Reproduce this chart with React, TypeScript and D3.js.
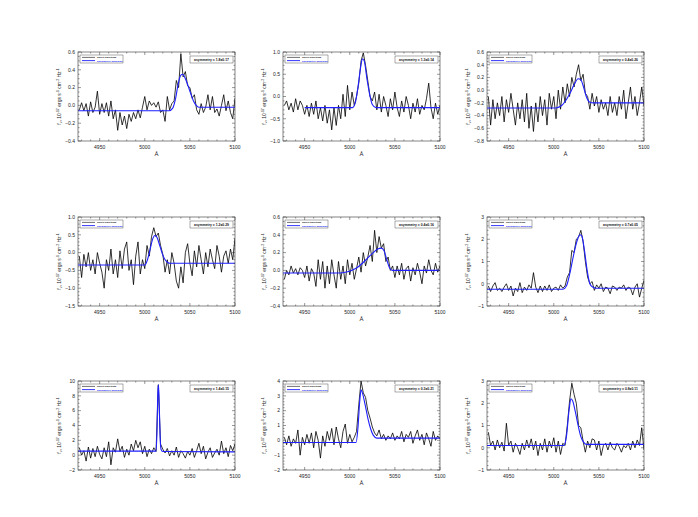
import React from 'react';
import * as d3 from 'd3';

const WIDTH = 698;
const HEIGHT = 517;

// sampling grid shared by every spectrum (Å)
const WAVE = d3.range(70).map(i => 4927.5 + i * 2.5);
const X_DOMAIN = [4926, 5100];
const X_TICKS = [4950, 5000, 5050, 5100];

const FLUX_1 = [-0.05, 0.03, -0.06, 0.02, -0.12, 0.04, -0.08, -0.02, 0.16, -0.1, 0.02, -0.08, 0.03, -0.12, 0.05, -0.15, -0.05, -0.28, -0.08, -0.22, -0.12, -0.26, -0.1, -0.18, -0.08, -0.15, -0.05, -0.14, -0.02, 0.1, -0.05, 0.05, 0.0, 0.03, -0.02, 0.04, -0.08, -0.05, -0.18, 0.1, -0.05, 0.02, 0.05, 0.28, 0.2, 0.58, 0.32, 0.38, 0.22, 0.2, 0.08, 0.12, -0.05, -0.1, 0.02, -0.08, -0.02, 0.12, -0.05, 0.1, -0.08, -0.04, -0.12, 0.0, 0.12, -0.06, 0.05, -0.08, -0.15, 0.08];
const FLUX_2 = [-0.2, -0.1, -0.3, -0.15, -0.35, -0.05, -0.3, -0.1, -0.2, -0.4, -0.2, -0.45, -0.15, -0.4, -0.1, -0.5, -0.25, -0.55, -0.2, -0.6, -0.3, -0.75, -0.25, -0.65, -0.2, -0.5, 0.05, -0.45, 0.25, -0.3, 0.1, -0.2, 0.0, 0.3, 0.8, 0.98, 0.7, 0.35, 0.0, -0.1, 0.1, -0.3, 0.05, -0.35, 0.0, -0.2, -0.45, -0.05, -0.3, 0.1, -0.25, -0.45, -0.1, -0.35, 0.0, -0.2, -0.5, -0.15, -0.35, -0.05, -0.4, -0.2, -0.3, -0.05, 0.3, -0.25, -0.5, -0.15, -0.4, -0.2];
const FLUX_3 = [-0.1, -0.55, -0.15, -0.45, -0.2, -0.4, -0.1, -0.5, -0.15, -0.35, -0.05, -0.3, -0.55, -0.2, -0.45, -0.15, -0.5, -0.05, -0.6, -0.25, -0.65, -0.2, -0.5, -0.1, -0.4, -0.15, -0.55, -0.05, -0.3, -0.1, -0.45, 0.0, -0.3, 0.05, -0.2, 0.1, -0.1, 0.2, 0.05, 0.25, 0.4, 0.15, 0.25, -0.05, -0.1, -0.3, -0.05, -0.25, -0.1, -0.35, -0.15, -0.3, -0.2, -0.4, -0.1, -0.35, -0.2, -0.4, -0.1, -0.3, 0.0, -0.45, -0.2, 0.05, -0.3, -0.1, -0.4, -0.2, 0.05, -0.25];
const FLUX_4 = [-0.1, -0.7, -0.05, -0.4, 0.0, -0.5, -0.2, -0.6, 0.0, -0.3, -0.55, -1.0, -0.2, -0.5, 0.1, -0.6, -0.2, -0.7, 0.05, -0.45, 0.1, 0.3, -0.5, -0.2, -0.9, -0.1, 0.3, -0.6, -0.2, -0.45, 0.2, -0.1, 0.45, 0.7, 0.45, 0.55, 0.2, -0.05, -0.55, -0.2, -0.6, 0.0, -0.3, -0.8, -1.0, -0.4, -0.85, 0.0, 0.25, -0.3, -0.65, 0.05, -0.4, 0.2, -0.2, -0.6, 0.0, -0.4, 0.1, -0.2, -0.45, 0.2, -0.1, -0.55, -0.1, 0.05, -0.3, 0.1, -0.2, 0.4];
const FLUX_5 = [-0.1, 0.0, -0.05, 0.05, -0.03, 0.02, -0.05, 0.03, 0.0, -0.08, 0.05, -0.12, 0.02, -0.03, -0.18, 0.12, -0.1, 0.1, -0.2, 0.05, -0.15, 0.12, -0.05, -0.2, 0.1, -0.1, 0.05, -0.15, 0.12, -0.05, 0.08, -0.1, 0.02, 0.15, -0.02, 0.2, 0.05, 0.15, 0.28, 0.1, 0.45, 0.2, 0.38, 0.25, 0.3, 0.1, 0.15, 0.0, 0.05, -0.08, 0.05, -0.05, 0.08, -0.1, 0.02, 0.05, -0.12, 0.03, -0.05, 0.08, -0.02, -0.15, 0.05, -0.03, 0.12, 0.0, -0.05, 0.08, -0.02, 0.05];
const FLUX_6 = [-0.1, -0.35, -0.1, 0.05, -0.3, -0.2, -0.35, -0.15, 0.0, -0.3, -0.1, -0.55, -0.2, -0.35, 0.05, -0.4, -0.15, -0.3, -0.05, -0.2, 0.5, -0.15, -0.4, -0.1, -0.35, -0.1, -0.3, -0.05, -0.35, -0.2, -0.15, -0.3, -0.05, -0.2, -0.1, 0.3, 0.5, 1.5, 1.4, 2.0, 2.1, 2.4, 1.9, 1.0, 0.3, 0.0, 0.1, -0.3, -0.05, -0.2, 0.0, -0.35, -0.15, -0.2, -0.45, -0.1, -0.15, -0.3, -0.15, -0.2, -0.05, -0.3, -0.15, -0.2, -0.5, -0.15, 0.0, -0.6, -0.2, 0.15];
const FLUX_7 = [1.0, 0.0, 0.6, -0.8, 1.1, -0.4, 0.9, -0.2, 1.2, 0.1, -0.5, 1.0, -0.2, 1.8, -1.3, 1.0, 0.4, 2.2, 0.5, 1.2, -0.3, 0.8, 0.0, 1.5, 0.6, 2.0, 1.0, 1.8, 0.2, 1.2, -0.2, 0.8, 0.2, 1.0, 0.5, 9.5, 1.5, 0.8, 0.3, 0.9, -0.1, 0.6, 0.0, 1.1, -0.3, 0.6, 0.2, -0.4, 0.5, 0.0, 0.9, -0.3, 0.6, 1.6, 0.2, 1.2, -0.5, 0.4, 1.0, -0.3, 0.3, 0.8, 0.0, 1.9, 0.2, 1.0, -0.2, 1.3, 0.6, 1.5];
const FLUX_8 = [0.2, -0.3, 0.3, -0.4, 0.1, -0.2, 0.7, -1.0, 0.2, -0.3, 0.4, -0.2, 0.5, -0.5, 0.6, 0.0, -1.2, 0.3, -0.4, 0.6, 0.0, 0.8, -0.3, 0.9, 0.1, -0.5, 0.6, 1.1, -0.2, 0.4, -0.1, 0.2, 0.6, 2.4, 4.0, 3.2, 2.9, 2.0, 1.5, 0.9, 0.5, 0.3, 0.7, 0.1, 0.4, 0.0, 0.3, 0.1, 0.5, 0.0, 0.3, 0.1, 0.6, -0.1, 0.4, 0.2, 0.6, -0.2, 0.3, 0.7, 0.0, 0.4, -0.3, 0.5, 0.1, -0.4, 0.6, 0.0, 0.3, 0.1];
const FLUX_9 = [0.7, 0.1, 0.3, -0.1, 0.35, 0.0, 0.25, -0.15, 1.1, 0.1, 0.3, -0.2, 0.2, 0.0, -0.3, 0.2, -0.1, 0.35, 0.0, 0.4, -0.1, 0.3, -0.35, 0.2, -0.1, 0.4, -0.2, 0.3, 0.0, 0.45, -0.2, 0.3, -0.3, 0.2, 0.1, 1.0, 2.1, 2.9, 2.4, 2.0, 1.0, 0.9, 0.3, -0.2, 0.3, 0.0, 0.4, 0.35, -0.1, 0.3, -0.35, 0.1, 0.2, -0.1, 0.25, 0.0, -0.1, 0.2, 0.05, -0.2, 0.1, 0.0, 0.2, -0.1, 0.3, 0.0, 0.35, 0.1, 0.9, -0.1];

// asymmetric gaussian fits, [wavelength, flux]
const FIT_1 = [[4926, -0.06], [5027, -0.06], [5031, -0.03], [5034, 0.07], [5037, 0.24], [5040, 0.34], [5042, 0.35], [5045, 0.3], [5048, 0.22], [5051, 0.13], [5054, 0.05], [5057, 0.0], [5060, -0.02], [5100, -0.02]];
const FIT_2 = [[4950, -0.25], [5003, -0.25], [5006, -0.15], [5009, 0.2], [5012, 0.65], [5014, 0.85], [5016, 0.8], [5019, 0.4], [5022, 0.05], [5025, -0.18], [5029, -0.25], [5100, -0.25]];
const FIT_3 = [[4926, -0.28], [5002, -0.28], [5008, -0.25], [5013, -0.17], [5018, -0.05], [5023, 0.1], [5027, 0.18], [5030, 0.16], [5033, 0.05], [5036, -0.1], [5040, -0.19], [5044, -0.2], [5100, -0.2]];
const FIT_4 = [[4926, -0.35], [5000, -0.35], [5003, -0.2], [5006, 0.1], [5009, 0.4], [5011, 0.48], [5013, 0.45], [5016, 0.25], [5019, 0.0], [5022, -0.18], [5025, -0.27], [5028, -0.3], [5100, -0.3]];
const FIT_5 = [[4926, -0.03], [4985, -0.03], [4995, -0.02], [5002, 0.0], [5008, 0.03], [5014, 0.08], [5020, 0.14], [5026, 0.2], [5031, 0.24], [5035, 0.25], [5038, 0.22], [5041, 0.12], [5044, 0.03], [5047, 0.0], [5100, 0.0]];
const FIT_6 = [[4926, -0.25], [5010, -0.25], [5014, -0.1], [5018, 0.5], [5022, 1.3], [5026, 1.95], [5029, 2.2], [5031, 2.15], [5034, 1.5], [5037, 0.6], [5040, 0.0], [5043, -0.15], [5047, -0.2], [5100, -0.2]];
const FIT_7 = [[4926, 0.55], [5012.5, 0.55], [5013.5, 3], [5014.5, 8.5], [5015.2, 9.5], [5016, 7], [5017, 2.5], [5018, 0.8], [5020, 0.5], [5100, 0.45]];
const FIT_8 = [[4926, -0.15], [5007, -0.15], [5009, 0.8], [5011, 2.6], [5012.5, 3.4], [5014, 3.2], [5017, 2.4], [5020, 1.5], [5023, 0.8], [5026, 0.35], [5030, 0.15], [5100, 0.15]];
const FIT_9 = [[4926, 0.1], [5011, 0.1], [5014, 0.5], [5017, 1.7], [5019, 2.2], [5021, 2.1], [5024, 1.6], [5027, 1.0], [5030, 0.5], [5033, 0.25], [5036, 0.15], [5100, 0.15]];

const Y_DOMAINS = [[-0.4, 0.6], [-1, 1], [-0.8, 0.6], [-1.5, 1], [-0.4, 0.6], [-1, 3], [-2, 10], [-2, 4], [-1, 3]];
const Y_STEPS = [0.2, 0.5, 0.2, 0.5, 0.2, 1, 2, 1, 1];
const Y_MINOR = [0.05, 0.1, 0.05, 0.1, 0.05, 0.2, 0.5, 0.2, 0.2];
const ASYMMETRY = ['1.8±0.17', '1.3±0.14', '0.4±0.26', '1.2±0.29', '0.4±0.16', '0.7±0.05', '1.4±0.15', '0.3±0.21', '0.8±0.11'];

const FLUXES = [FLUX_1, FLUX_2, FLUX_3, FLUX_4, FLUX_5, FLUX_6, FLUX_7, FLUX_8, FLUX_9];
const FITS = [FIT_1, FIT_2, FIT_3, FIT_4, FIT_5, FIT_6, FIT_7, FIT_8, FIT_9];

const COL_X = [78, 283, 487];
const ROW_Y = [52, 217, 381];
const PW = 157;
const PH = 89;
const FONT = 'Liberation Sans, Arial, Helvetica, sans-serif';

function Panel({ idx }: { idx: number }) {
  const left = COL_X[idx % 3];
  const top = ROW_Y[Math.floor(idx / 3)];
  const x = d3.scaleLinear().domain(X_DOMAIN).range([0, PW]);
  const [y0, y1] = Y_DOMAINS[idx];
  const y = d3.scaleLinear().domain([y0, y1]).range([PH, 0]);
  const step = Y_STEPS[idx];
  const eps = 1e-9;
  const yTicks = d3.range(y0, y1 + eps, step).map(v => +v.toFixed(4));
  const yMinor = d3.range(y0, y1 + eps, Y_MINOR[idx]).map(v => +v.toFixed(4));
  const xMinor = d3.range(4930, 5101, 10);
  const fmt = step < 1 ? d3.format('.1f') : d3.format('d');

  const spectrum = d3.line<number>()
    .x((_, i) => x(WAVE[i]))
    .y(d => y(d));
  const fit = d3.line<number[]>()
    .x(d => x(d[0]))
    .y(d => y(d[1]))
    .curve(d3.curveMonotoneX);

  const axisColor = '#333';
  return (
    <g transform={`translate(${left},${top})`}>
      <defs>
        <clipPath id={`clip${idx}`}>
          <rect x={0} y={0} width={PW} height={PH} />
        </clipPath>
      </defs>
      <g clipPath={`url(#clip${idx})`}>
        <path d={spectrum(FLUXES[idx]) || ''} fill="none" stroke="#000" strokeWidth={0.8} />
        <path d={fit(FITS[idx]) || ''} fill="none" stroke="#1f1fff" strokeWidth={1.1} />
      </g>
      <rect x={0} y={0} width={PW} height={PH} fill="none" stroke={axisColor} strokeWidth={0.6} />
      {/* x ticks, bottom and top */}
      {xMinor.map(v => {
        const major = X_TICKS.includes(v);
        const l = major ? 3 : 1.5;
        return (
          <g key={`xm${v}`} stroke={axisColor} strokeWidth={0.5}>
            <line x1={x(v)} x2={x(v)} y1={PH} y2={PH - l} />
            <line x1={x(v)} x2={x(v)} y1={0} y2={l} />
          </g>
        );
      })}
      {yMinor.map(v => {
        const major = yTicks.some(t => Math.abs(t - v) < 1e-6);
        const l = major ? 3 : 1.5;
        return (
          <g key={`ym${v}`} stroke={axisColor} strokeWidth={0.5}>
            <line x1={0} x2={l} y1={y(v)} y2={y(v)} />
            <line x1={PW} x2={PW - l} y1={y(v)} y2={y(v)} />
          </g>
        );
      })}
      {X_TICKS.map(v => (
        <text key={`xl${v}`} x={x(v)} y={PH + 8} fontSize={5} textAnchor="middle" fill="#222" fontFamily={FONT}>{v}</text>
      ))}
      {yTicks.map(v => (
        <text key={`yl${v}`} x={-3} y={y(v) + 1.8} fontSize={5} textAnchor="end" fill="#222" fontFamily={FONT}>{fmt(v)}</text>
      ))}
      <text x={PW / 2} y={PH + 15} fontSize={6} textAnchor="middle" fill="#222" fontFamily={FONT}>Å</text>
      <text
        transform={`translate(${-17},${PH / 2}) rotate(-90)`}
        fontSize={5}
        textAnchor="middle"
        fill="#222"
        fontFamily={FONT}
      >
        f<tspan fontSize={3.5} dy={1.2}>ν</tspan>
        <tspan dy={-1.2}>, 10</tspan>
        <tspan fontSize={3.5} dy={-1.8}>-17</tspan>
        <tspan dy={1.8}> ergs s</tspan>
        <tspan fontSize={3.5} dy={-1.8}>-1</tspan>
        <tspan dy={1.8}> cm</tspan>
        <tspan fontSize={3.5} dy={-1.8}>-2</tspan>
        <tspan dy={1.8}> Hz</tspan>
        <tspan fontSize={3.5} dy={-1.8}>-1</tspan>
      </text>
      {/* legend */}
      <g transform="translate(2,3)">
        <rect x={0} y={0} width={43} height={8} fill="white" stroke="#333" strokeWidth={0.4} />
        <line x1={2} x2={15} y1={2.4} y2={2.4} stroke="#111" strokeWidth={0.6} />
        <line x1={2} x2={15} y1={5.6} y2={5.6} stroke="#1f1fff" strokeWidth={0.9} />
        <text x={17} y={3.3} fontSize={2.5} fontWeight="bold" fill="#111" fontFamily={FONT}>object spectrum</text>
        <text x={17} y={6.5} fontSize={2.5} fontWeight="bold" fill="#1f1fff" fontFamily={FONT}>asymmetric gaussian</text>
      </g>
      <g transform={`translate(${PW - 45},4)`}>
        <rect x={0} y={0} width={43} height={7} fill="white" stroke="#333" strokeWidth={0.4} />
        <text x={21.5} y={4.7} fontSize={3.4} fontWeight="bold" textAnchor="middle" fill="#111" fontFamily={FONT}>
          {`asymmetry = ${ASYMMETRY[idx]}`}
        </text>
      </g>
    </g>
  );
}

export default function App() {
  return (
    <svg
      xmlns="http://www.w3.org/2000/svg"
      width={WIDTH}
      height={HEIGHT}
      style={{ position: 'absolute', left: 0, top: 0, background: 'white' }}
    >
      <rect width={WIDTH} height={HEIGHT} fill="white" />
      {d3.range(9).map(i => <Panel key={i} idx={i} />)}
    </svg>
  );
}
